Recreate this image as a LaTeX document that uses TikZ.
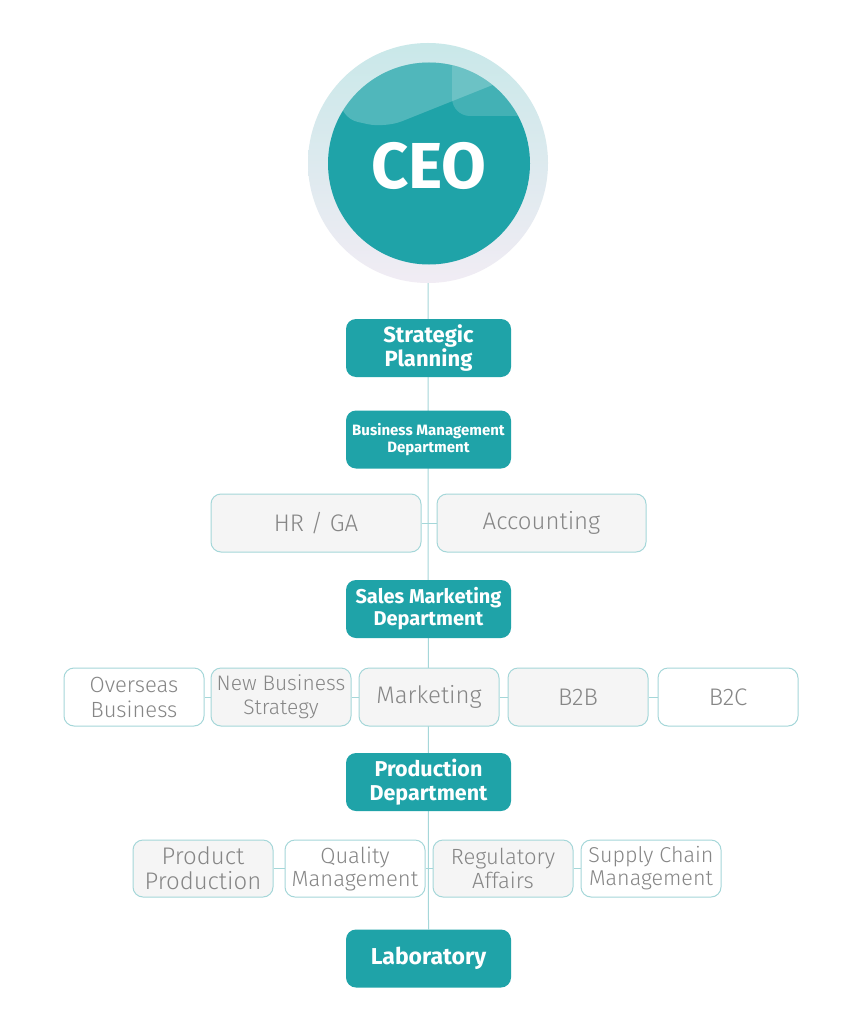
\documentclass[tikz,border=0pt]{standalone}
\usepackage{fontspec}
\setmainfont{Fira Sans}
\newfontfamily\tealfont{Fira Sans}
\newfontfamily\greyfont{Fira Sans Light}
\definecolor{tealA}{HTML}{1FA3A8}
\definecolor{edgeC}{HTML}{A5D7D9}
\definecolor{txtC}{HTML}{868686}
\definecolor{ringtop}{HTML}{C9E8E9}
\definecolor{ringbot}{HTML}{F1ECF4}
\definecolor{fillG}{HTML}{F5F5F5}
\pgfdeclarelayer{bg}
\pgfdeclarelayer{lines}
\pgfsetlayers{bg,lines,main}
\tikzset{
  tealbox/.style={rectangle, rounded corners=10pt, fill=tealA, minimum width=165pt,
    minimum height=58pt, text=white, align=center, inner sep=0pt},
  greybox/.style={rectangle, rounded corners=10pt, draw=edgeC, line width=1pt, fill=white,
    minimum height=58pt, text=txtC, align=center, inner sep=0pt},
  shaded/.style={fill=fillG},
  link/.style={draw=edgeC, line width=1pt},
  tf/.style 2 args={font={\tealfont\bfseries\fontsize{#1}{#2}\selectfont}},
  gf/.style 2 args={font={\greyfont\fontsize{#1}{#2}\selectfont}}
}
\begin{document}
\begin{tikzpicture}[x=1pt,y=-1pt]
\begin{pgfonlayer}{bg}
\fill[white] (0,0) rectangle (857,1024);
\end{pgfonlayer}
\useasboundingbox (0,0) rectangle (857,1024);

% CEO
\node[circle, minimum size=240pt, inner sep=0pt, top color=ringtop, bottom color=ringbot] (ceoring) at (428,163) {};
\node[circle, minimum size=202pt, inner sep=0pt, fill=tealA] (ceocirc) at (429,163.5) {};
\begin{scope}
  \clip (429,163.5) circle (101pt);
  \fill[white, opacity=0.22, rounded corners=18pt] (340,40) -- (340,118) -- (385,128) -- (560,58) -- (560,40) -- cycle;
  \fill[white, opacity=0.16, rounded corners=18pt] (452,50) rectangle (570,116);
\end{scope}
\node[text=white, font={\tealfont\bfseries\fontsize{65}{72}\selectfont}] (ceo) at (429,166) {CEO};

% main departments
\node[tealbox, tf={22}{24}] (sp) at (428.5,348) {Strategic\\Planning};
\node[tealbox, tf={15}{17.5}] (bm) at (428.5,439.5) {Business Management\\Department};
\node[tealbox, tf={20}{22}] (sm) at (428.5,609) {Sales Marketing\\Department};
\node[tealbox, tf={21.5}{24}] (pd) at (428.5,782) {Production\\Department};
\node[tealbox, tf={23}{26}] (lab) at (428.5,958.5) {Laboratory};

% row 2
\node[greybox, shaded, minimum width=210pt, gf={24}{27}] (hr) at (316,523) {HR / GA};
\node[greybox, shaded, minimum width=209pt, gf={24}{27}] (acc) at (541.5,523) {Accounting};

% row 3
\node[greybox, minimum width=140pt, gf={22}{25}] (ov) at (134,697) {Overseas\\Business};
\node[greybox, shaded, minimum width=140pt, gf={21}{24}] (nb) at (281,697) {New Business\\Strategy};
\node[greybox, shaded, minimum width=140pt, gf={24}{27}] (mk) at (429,697) {Marketing};
\node[greybox, shaded, minimum width=140pt, gf={24}{27}] (b2b) at (578,697) {B2B};
\node[greybox, minimum width=140pt, gf={24}{27}] (b2c) at (728,697) {B2C};

% row 5
\node[greybox, shaded, minimum width=140pt, minimum height=57pt, gf={24}{25}] (pp) at (203,868.5) {Product\\Production};
\node[greybox, minimum width=140pt, minimum height=57pt, gf={22}{23}] (qm) at (355,868.5) {Quality\\Management};
\node[greybox, shaded, minimum width=140pt, minimum height=57pt, gf={22}{24}] (ra) at (503,868.5) {Regulatory\\Affairs};
\node[greybox, minimum width=140pt, minimum height=57pt, gf={21.5}{23}] (sc) at (651,868.5) {Supply Chain\\Management};

\begin{pgfonlayer}{lines}
\draw[link] (ceoring.south) -- (lab.north);
\draw[link] (hr.east) -- (acc.west);
\draw[link] (ov.east) -- (nb.west);
\draw[link] (nb.east) -- (mk.west);
\draw[link] (mk.east) -- (b2b.west);
\draw[link] (b2b.east) -- (b2c.west);
\draw[link] (pp.east) -- (qm.west);
\draw[link] (qm.east) -- (ra.west);
\draw[link] (ra.east) -- (sc.west);
\end{pgfonlayer}
\end{tikzpicture}
\end{document}
